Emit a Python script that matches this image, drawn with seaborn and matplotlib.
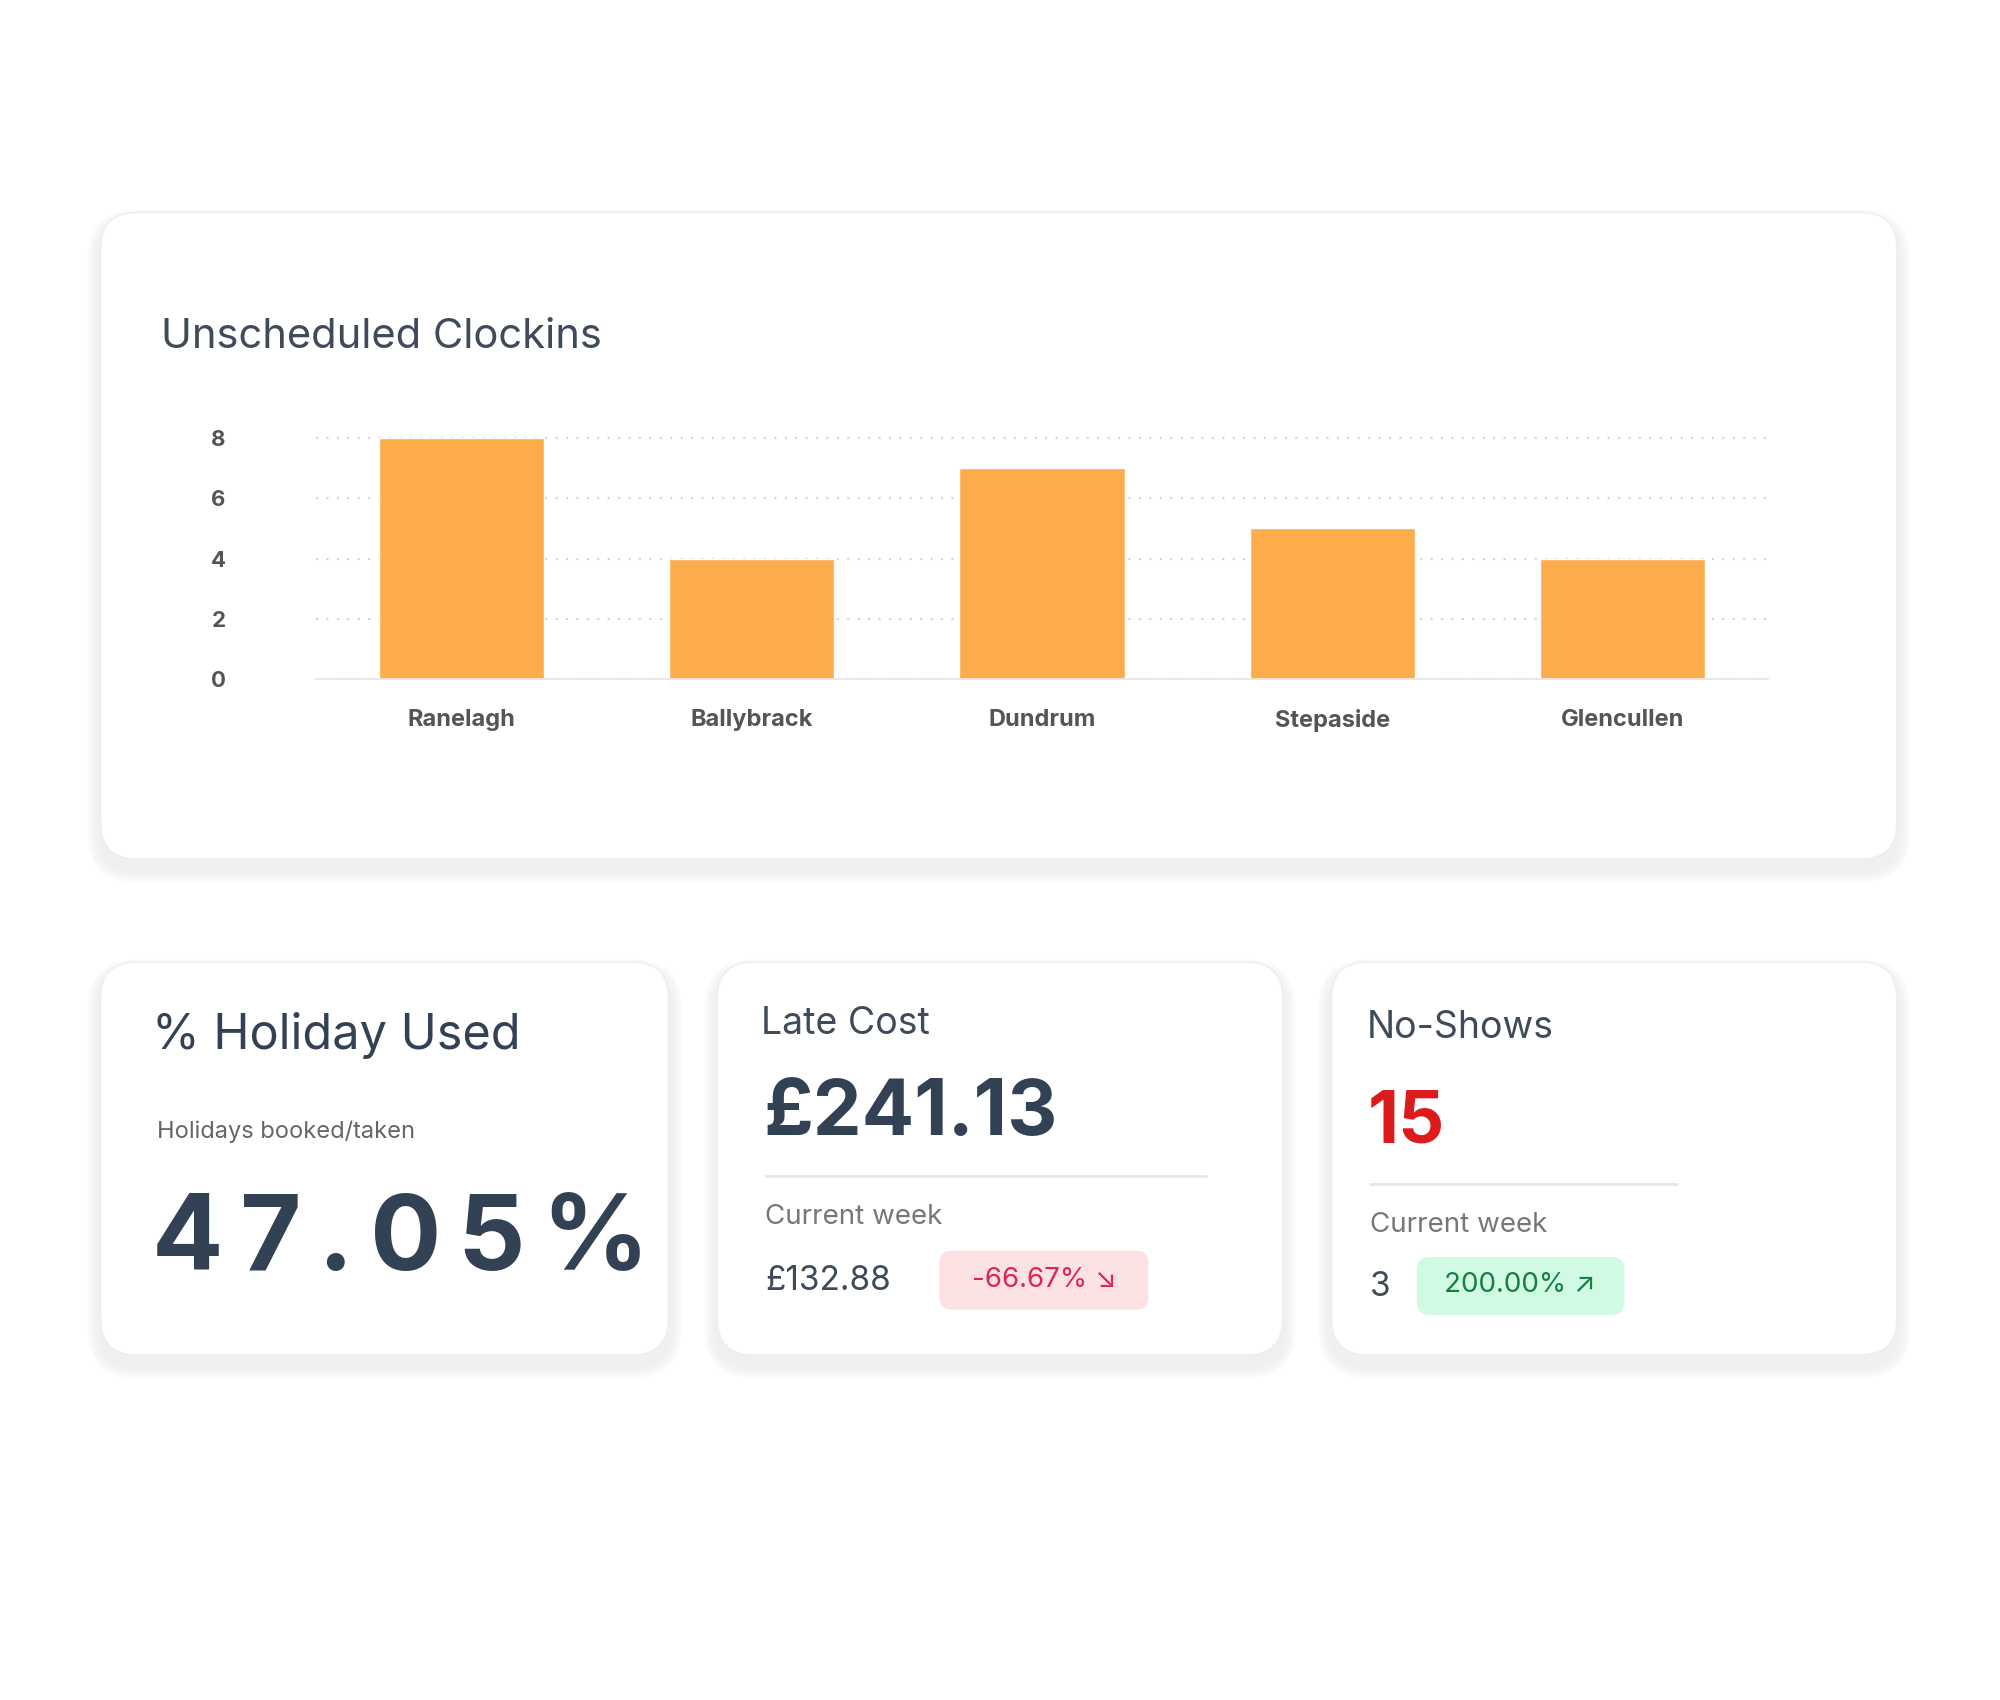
import matplotlib
matplotlib.use("Agg")
import matplotlib.pyplot as plt
import seaborn as sns
import pandas as pd
from matplotlib.patches import FancyBboxPatch

sites = ["Ranelagh", "Ballybrack", "Dundrum", "Stepaside", "Glencullen"]
clockins = [8, 4, 7, 5, 4]
yticks = [0, 2, 4, 6, 8]

sns.set_theme(style="white")
plt.rcParams['font.family'] = ['Inter', 'DejaVu Sans']

W, H = 1550, 1320
fig = plt.figure(figsize=(20, 17), dpi=100)
fig.patch.set_facecolor("white")
bg = fig.add_axes([0, 0, 1, 1])
bg.set_xlim(0, W); bg.set_ylim(H, 0); bg.axis("off")

def card(x0, y0, x1, y1):
    for i, a in enumerate([0.018, 0.014, 0.010, 0.007, 0.004]):
        g = (5 - i) * 4
        bg.add_patch(FancyBboxPatch((x0 - g/2, y0 - g/2 + 8), x1 - x0 + g, y1 - y0 + g,
                                    boxstyle="round,pad=0,rounding_size=%d" % (28 + g/2),
                                    fc="black", ec="none", alpha=a, zorder=1))
    bg.add_patch(FancyBboxPatch((x0, y0), x1 - x0, y1 - y0,
                                boxstyle="round,pad=0,rounding_size=28",
                                fc="white", ec="#eeeeee", lw=1, zorder=2))

card(78, 165, 1470, 667)
card(78, 747, 518, 1052)
card(556, 747, 994, 1052)
card(1032, 747, 1470, 1052)

dark = "#334155"
bg.text(125, 262, "Unscheduled Clockins", fontsize=30, color="#3f4a5a", va="center", zorder=3)

bg.text(118, 804, "% Holiday Used", fontsize=35, color=dark, va="center", zorder=3)
bg.text(122, 879, "Holidays booked/taken", fontsize=17, color="#666666", va="center", zorder=3)
bg.text(118, 965, "4 7 . 0 5 %".replace(" ", "\u2009"), fontsize=76, fontweight="bold", color=dark, va="center", zorder=3)

bg.text(590, 795, "Late Cost", fontsize=27, color="#3f4a5a", va="center", zorder=3)
bg.text(592, 865, "£241.13", fontsize=56, fontweight="bold", color=dark, va="center", zorder=3)
bg.plot([594, 935], [913, 913], color="#e5e7eb", lw=2, zorder=3)
bg.text(593, 945, "Current week", fontsize=20, color="#777777", va="center", zorder=3)
bg.text(593, 995, "£132.88", fontsize=24, color="#3f4a5a", va="center", zorder=3)
bg.add_patch(FancyBboxPatch((728, 971), 162, 46, boxstyle="round,pad=0,rounding_size=10",
                            fc="#fde2e4", ec="none", zorder=3))
bg.text(809, 994, "-66.67% ↘", fontsize=20, color="#dc2650", va="center", ha="center", zorder=4)

bg.text(1059, 798, "No-Shows", fontsize=27, color="#3f4a5a", va="center", zorder=3)
bg.text(1060, 872, "15", fontsize=52, fontweight="bold", color="#dc1c1c", va="center", zorder=3)
bg.plot([1062, 1300], [919, 919], color="#e5e7eb", lw=2, zorder=3)
bg.text(1062, 951, "Current week", fontsize=20, color="#777777", va="center", zorder=3)
bg.text(1062, 999, "3", fontsize=24, color="#3f4a5a", va="center", zorder=3)
bg.add_patch(FancyBboxPatch((1098, 976), 161, 45, boxstyle="round,pad=0,rounding_size=10",
                            fc="#d1fae5", ec="none", zorder=3))
bg.text(1178, 998, "200.00% ↗", fontsize=20, color="#15803d", va="center", ha="center", zorder=4)

ax = fig.add_axes([245 / W, 1 - 527 / H, (1370 - 245) / W, (527 - 338) / H])
ax.set_zorder(5)
ax.patch.set_alpha(0)
df = pd.DataFrame({"site": sites, "n": clockins})
sns.barplot(data=df, x="site", y="n", color="#fdac4c", saturation=1, width=0.57, ax=ax)
ax.set_ylim(0, 8.1)
ax.set_yticks(yticks)
ax.set_xlabel(""); ax.set_ylabel("")
ax.yaxis.grid(True, linestyle=(0, (1, 4)), color="#d4d4d4", lw=1.5)
ax.set_axisbelow(True)
for s in ["top", "right", "left"]:
    ax.spines[s].set_visible(False)
ax.spines["bottom"].set_color("#e5e5e5")
ax.tick_params(axis="y", length=0, pad=65, labelsize=16, labelcolor="#555555")
ax.tick_params(axis="x", length=0, pad=22, labelsize=17, labelcolor="#555555")
for t in ax.get_yticklabels() + ax.get_xticklabels():
    t.set_fontweight("bold")

fig.savefig("out.png", dpi=100, facecolor="white")
